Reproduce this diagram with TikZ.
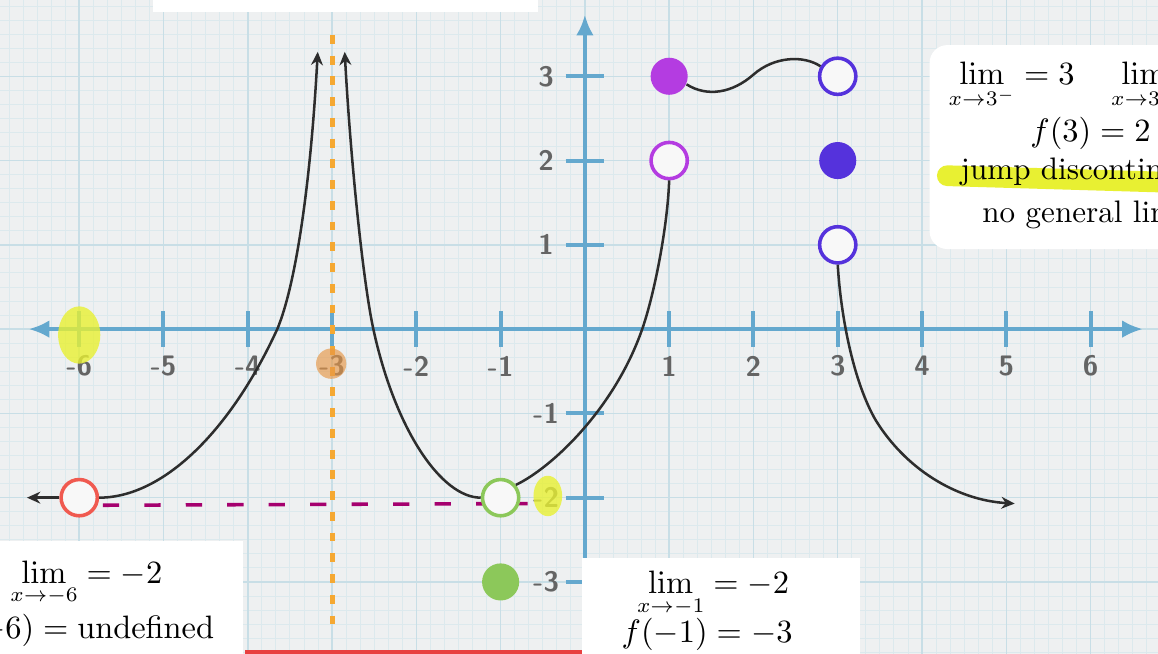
\documentclass[tikz,border=0pt]{standalone}
\usepackage{tikz}
\usetikzlibrary{arrows.meta}

\definecolor{paper}{RGB}{238,240,241}
\definecolor{gridminor}{RGB}{220,233,237}
\definecolor{gridmajor}{RGB}{200,222,230}
\definecolor{axisblue}{RGB}{100,168,206}
\definecolor{tickgray}{RGB}{100,100,100}
\definecolor{curveblack}{RGB}{45,45,45}
\definecolor{asymorange}{RGB}{245,168,50}
\definecolor{limmagenta}{RGB}{165,0,110}
\definecolor{holefill}{RGB}{248,248,248}
\definecolor{ptred}{RGB}{240,90,80}
\definecolor{ptgreen}{RGB}{140,200,90}
\definecolor{ptpurple}{RGB}{180,60,225}
\definecolor{ptviolet}{RGB}{85,50,220}
\definecolor{marker}{RGB}{232,240,50}
\definecolor{markorange}{RGB}{230,150,70}
\definecolor{uired}{RGB}{232,64,64}

\begin{document}
\begin{tikzpicture}[
        font=\fontsize{10.5}{12.5}\selectfont,
        axis/.style={draw=axisblue, line width=1.35pt},
        axarr/.style={-{Latex[length=7pt,width=6pt]}},
        curve/.style={draw=curveblack, line width=0.85pt},
        arr/.style={-{Stealth[length=4.5pt,width=4pt]}},
        hole/.style={circle, draw=#1, fill=holefill, line width=1.2pt,
                     minimum size=0.43cm, inner sep=0pt},
        dot/.style={circle, fill=#1, minimum size=0.44cm, inner sep=0pt},
        ticklbl/.style={font=\sffamily\bfseries\fontsize{9.5}{11}\selectfont, text=tickgray},
        asym/.style={draw=asymorange, line width=1.7pt, dash pattern=on 3pt off 4pt},
        limline/.style={draw=limmagenta, line width=1.2pt, dash pattern=on 5.5pt off 8.5pt},
        card/.style={fill=white},
        note/.style={inner sep=0pt}
      ]
        \useasboundingbox (-6.94,-3.846) rectangle (6.80,3.905);
        \clip (-6.94,-3.846) rectangle (6.80,3.905);

        % graph paper
        \fill[paper] (-7,-4) rectangle (7,4);
        \draw[gridminor, line width=0.3pt, step=0.1666667] (-7,-4) grid (7,4);
        \draw[gridmajor, line width=0.5pt, step=1] (-7,-4) grid (7,4);

        % axes
        \draw[axis, axarr] (0,-3.5) -- (0,3.73);
        \draw[axis, {Latex[length=7pt,width=6pt]}-{Latex[length=7pt,width=6pt]}] (-6.6,0) -- (6.62,0);
        \foreach \x in {-6,-5,-4,-3,-2,-1,1,2,3,4,5,6} {
          \draw[axis] (\x,-0.21) -- (\x,0.21);
          \node[ticklbl] (xl\x) at (\x,-0.44) {\x};
        }
        \foreach \y in {-3,-2,-1,1,2,3} {
          \draw[axis] (-0.23,\y) -- (0.23,\y);
          \node[ticklbl] (yl\y) at (-0.46,\y) {\y};
        }

        % asymptote and limit line
        \draw[asym] (-3,3.49) -- (-3,-3.53);
        \coordinate (m6) at (-6,-2);
        \coordinate (m1) at (-1,-2);
        \coordinate (limtail) at (-0.68,-2.07);
        \draw[limline] (-5.72,-2.09) -- (limtail);

        % points
        \node[hole=ptred]      (Pm6) at (m6) {};
        \node[hole=ptgreen]    (Pm1) at (m1) {};
        \node[dot=ptgreen]     (Fm1) at (-1,-3) {};
        \node[dot=ptpurple]    (F1)  at (1,3) {};
        \node[hole=ptpurple]   (P1)  at (1,2) {};
        \node[hole=ptviolet]   (P3a) at (3,3) {};
        \node[dot=ptviolet]    (F3)  at (3,2) {};
        \node[hole=ptviolet]   (P3b) at (3,1) {};

        \coordinate (lend) at (-6.62,-2);
        \coordinate (upl)  at (-3.17,3.29);
        \coordinate (upr)  at (-2.85,3.29);
        \coordinate (rend) at (5.1,-2.07);

        % curve pieces
        \draw[curve, arr] (Pm6.west) -- (lend);
        \draw[curve, arr] (Pm6.east) .. controls (-5,-2) and (-4.2,-1.2) .. (-3.65,0)
                                     .. controls (-3.42,0.55) and (-3.25,1.8) .. (upl);
        \draw[curve, arr] (Pm1.west) .. controls (-1.7,-2) and (-2.25,-1.2) .. (-2.51,0)
                                     .. controls (-2.63,0.55) and (-2.78,2) .. (upr);
        \draw[curve] (Pm1.40) .. controls (-0.4,-1.65) and (0.35,-0.95) .. (0.68,0)
                              .. controls (0.82,0.4) and (0.98,1.2) .. (P1.south);
        \draw[curve] (F1.-25) .. controls (1.45,2.75) and (1.75,2.8) .. (2.0,3.02)
                              .. controls (2.25,3.24) and (2.6,3.25) .. (P3a.150);
        \draw[curve, arr] (P3b.south) .. controls (3.04,0.1) and (3.2,-0.65) .. (3.45,-1.08)
                                      .. controls (3.8,-1.65) and (4.4,-2.03) .. (rend);

        % highlights
        \fill[marker, opacity=0.8] (-6.0,-0.07) ellipse [x radius=0.25, y radius=0.34];
        \fill[markorange, opacity=0.65] (-3.01,-0.41) circle [radius=0.18];
        \fill[marker, opacity=0.8] (-0.44,-1.98) ellipse [x radius=0.17, y radius=0.24];

        % notes
        \fill[card, rounded corners=6pt] (4.09,0.95) rectangle (8,3.37);
        \draw[marker, line width=7pt, line cap=round] (4.3,1.82) -- (7,1.74);
        \node[note, anchor=base west] (limthree) at (4.31,2.90)
          {$\displaystyle\lim_{x\to3^-}=3\quad\lim_{x\to3^+}=1$};
        \node[note, anchor=base] (fthree) at (6.0,2.22) {$f(3)=2$};
        \node[note, anchor=base west] (jump) at (4.45,1.775) {jump discontinuity};
        \node[note, anchor=base west] (nolim) at (4.71,1.27) {no general limit};

        \fill[card] (-7,-3.9) rectangle (-4.06,-2.51);
        \node[note, anchor=base east] (limsix) at (-5.006,-3.02) {$\displaystyle\lim_{x\to-6}=-2$};
        \node[note, anchor=base east] (fsix) at (-4.39,-3.67) {$f(-6)=\mathrm{undefined}$};

        \fill[card] (-0.04,-3.9) rectangle (3.26,-2.72);
        \node[note, anchor=base east] (limone) at (2.43,-3.14) {$\displaystyle\lim_{x\to-1}=-2$};
        \node[note, anchor=base east] (fone) at (2.47,-3.72) {$f(-1)=-3$};

        % video overlay bits
        \fill[white] (-5.12,3.76) rectangle (-0.56,4);
        \fill[uired] (-4.03,-3.81) rectangle (-0.04,-3.9);
      \end{tikzpicture}
\end{document}
